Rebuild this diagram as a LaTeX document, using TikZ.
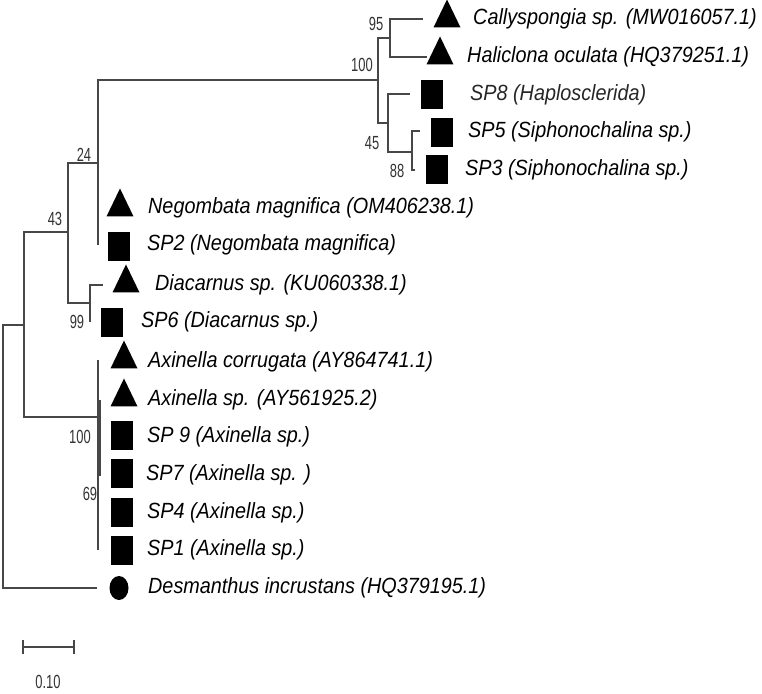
\documentclass[tikz,border=0pt]{standalone}
\usepackage{fontspec}
\setmainfont{Liberation Sans}
\newfontfamily\bootfont[FakeStretch=0.68]{Liberation Sans}
\newfontfamily\taxfont[FakeStretch=0.9]{Liberation Sans}
\usetikzlibrary{shapes.geometric}

\begin{document}
\begin{tikzpicture}[
    x=1pt, y=-1pt,
    branch/.style={draw=black!72, line width=1.3pt},
    tri/.style={isosceles triangle, isosceles triangle stretches, shape border rotate=90,
                fill=black, minimum width=27pt, minimum height=28pt, inner sep=0pt},
    sq/.style={rectangle, fill=black, minimum width=22pt, minimum height=29pt, inner sep=0pt},
    blob/.style={ellipse, fill=black, minimum width=19pt, minimum height=24pt, inner sep=0pt},
    taxon/.style={anchor=west, inner sep=0pt, font=\taxfont\fontsize{22}{24}\selectfont\itshape},
    boot/.style={inner sep=0pt, text=black!80, font=\bootfont\fontsize{19}{20}\selectfont},
]
\useasboundingbox (0,0) rectangle (762,693);

% internal nodes (x = depth, y = row of the branch into the node)
\coordinate (root) at (3,456);
\coordinate (nA) at (24,325);
\coordinate (nB) at (68,232);
\coordinate (nC) at (98,163);
\coordinate (nD) at (90,303);
\coordinate (nE) at (378,80);
\coordinate (nH) at (390,38);
\coordinate (nI) at (388,123);
\coordinate (nJ) at (412,152);
\coordinate (nG) at (98,417);
\coordinate (nK) at (100,438);

% tips
\coordinate (lCal) at (423,19);
\coordinate (lHal) at (427,57);
\coordinate (lSPviii) at (410,94);
\coordinate (lSPv) at (420,131);
\coordinate (lSPiii) at (415,170);
\coordinate (lNeg) at (98,208);
\coordinate (lSPii) at (98,245);
\coordinate (lDia) at (103,285);
\coordinate (lSPvi) at (90,322);
\coordinate (lAco) at (98,360);
\coordinate (lAsp) at (100,400);
\coordinate (lSPix) at (100,438);
\coordinate (lSPvii) at (100,476);
\coordinate (lSPiv) at (98,513);
\coordinate (lSPi) at (98,550);
\coordinate (lDes) at (97,588);

% branches
\draw[branch] (root) |- (nA) (root) |- (lDes);
\draw[branch] (nA) |- (nB) (nA) |- (nG);
\draw[branch] (nB) |- (nC) (nB) |- (nD);
\draw[branch] (nC) |- (nE) (nC) |- (lNeg) (nC) |- (lSPii);
\draw[branch] (nE) |- (nH) (nE) |- (nI);
\draw[branch] (nH) |- (lCal) (nH) |- (lHal);
\draw[branch] (nI) |- (lSPviii) (nI) |- (nJ);
\draw[branch] (nJ) |- (lSPv) (nJ) |- (lSPiii);
\draw[branch] (nD) |- (lDia) (nD) |- (lSPvi);
\draw[branch] (nG) |- (lAco) (nG) |- (nK) (nG) |- (lSPiv) (nG) |- (lSPi);
\draw[branch] (nK) |- (lAsp) (nK) |- (lSPix) (nK) |- (lSPvii);

% bootstrap values
\node[boot] (bE) at (362,65) {100};
\node[boot] (bH) at (376,24) {95};
\node[boot] (bI) at (372,143) {45};
\node[boot] (bJ) at (397,171) {88};
\node[boot] (bC) at (84,155) {24};
\node[boot] (bB) at (55,219) {43};
\node[boot] (bD) at (77,322) {99};
\node[boot] (bG) at (80,437) {100};
\node[boot] (bK) at (90,494) {69};

% markers
\node[tri] (mCal) at (447,19) {};
\node[tri] (mHal) at (440,56) {};
\node[sq] (mSPviii) at (432,94) {};
\node[sq] (mSPv) at (442,132) {};
\node[sq] (mSPiii) at (437,169) {};
\node[tri] (mNeg) at (120,208) {};
\node[sq] (mSPii) at (119,246) {};
\node[tri] (mDia) at (126,284) {};
\node[sq] (mSPvi) at (112,322) {};
\node[tri] (mAco) at (124,360) {};
\node[tri] (mAsp) at (124,398) {};
\node[sq] (mSPix) at (122,435) {};
\node[sq] (mSPvii) at (122,473) {};
\node[sq] (mSPiv) at (122,512) {};
\node[sq] (mSPi) at (122,550) {};
\node[blob] (mDes) at (119,588) {};

% taxon names
\node[taxon] (tCal) at (473,19) {Callyspongia sp. (MW016057.1)};
\node[taxon] (tHal) at (467,57) {Haliclona oculata (HQ379251.1)};
\node[taxon, text=black!85] (tSPviii) at (470,95) {SP8 (Haplosclerida)};
\node[taxon] (tSPv) at (468,132) {SP5 (Siphonochalina sp.)};
\node[taxon] (tSPiii) at (465,170) {SP3 (Siphonochalina sp.)};
\node[taxon] (tNeg) at (148,208) {Negombata magnifica (OM406238.1)};
\node[taxon] (tSPii) at (147,245) {SP2 (Negombata magnifica)};
\node[taxon] (tDia) at (155,285) {Diacarnus sp. (KU060338.1)};
\node[taxon] (tSPvi) at (141,322) {SP6 (Diacarnus sp.)};
\node[taxon] (tAco) at (148,362) {Axinella corrugata (AY864741.1)};
\node[taxon] (tAsp) at (148,400) {Axinella sp. (AY561925.2)};
\node[taxon] (tSPix) at (147,437) {SP 9 (Axinella sp.)};
\node[taxon] (tSPvii) at (146,475) {SP7 (Axinella sp. )};
\node[taxon] (tSPiv) at (147,513) {SP4 (Axinella sp.)};
\node[taxon] (tSPi) at (147,550) {SP1 (Axinella sp.)};
\node[taxon] (tDes) at (148,588) {Desmanthus incrustans (HQ379195.1)};

% scale bar
\coordinate (sbL) at (23,647);
\coordinate (sbR) at (74,647);
\draw[branch] (sbL) -- (sbR);
\draw[branch] ([yshift=7pt]sbL) -- ([yshift=-7pt]sbL);
\draw[branch] ([yshift=7pt]sbR) -- ([yshift=-7pt]sbR);
\node[boot] (sbText) at (48,682) {0.10};
\end{tikzpicture}
\end{document}
